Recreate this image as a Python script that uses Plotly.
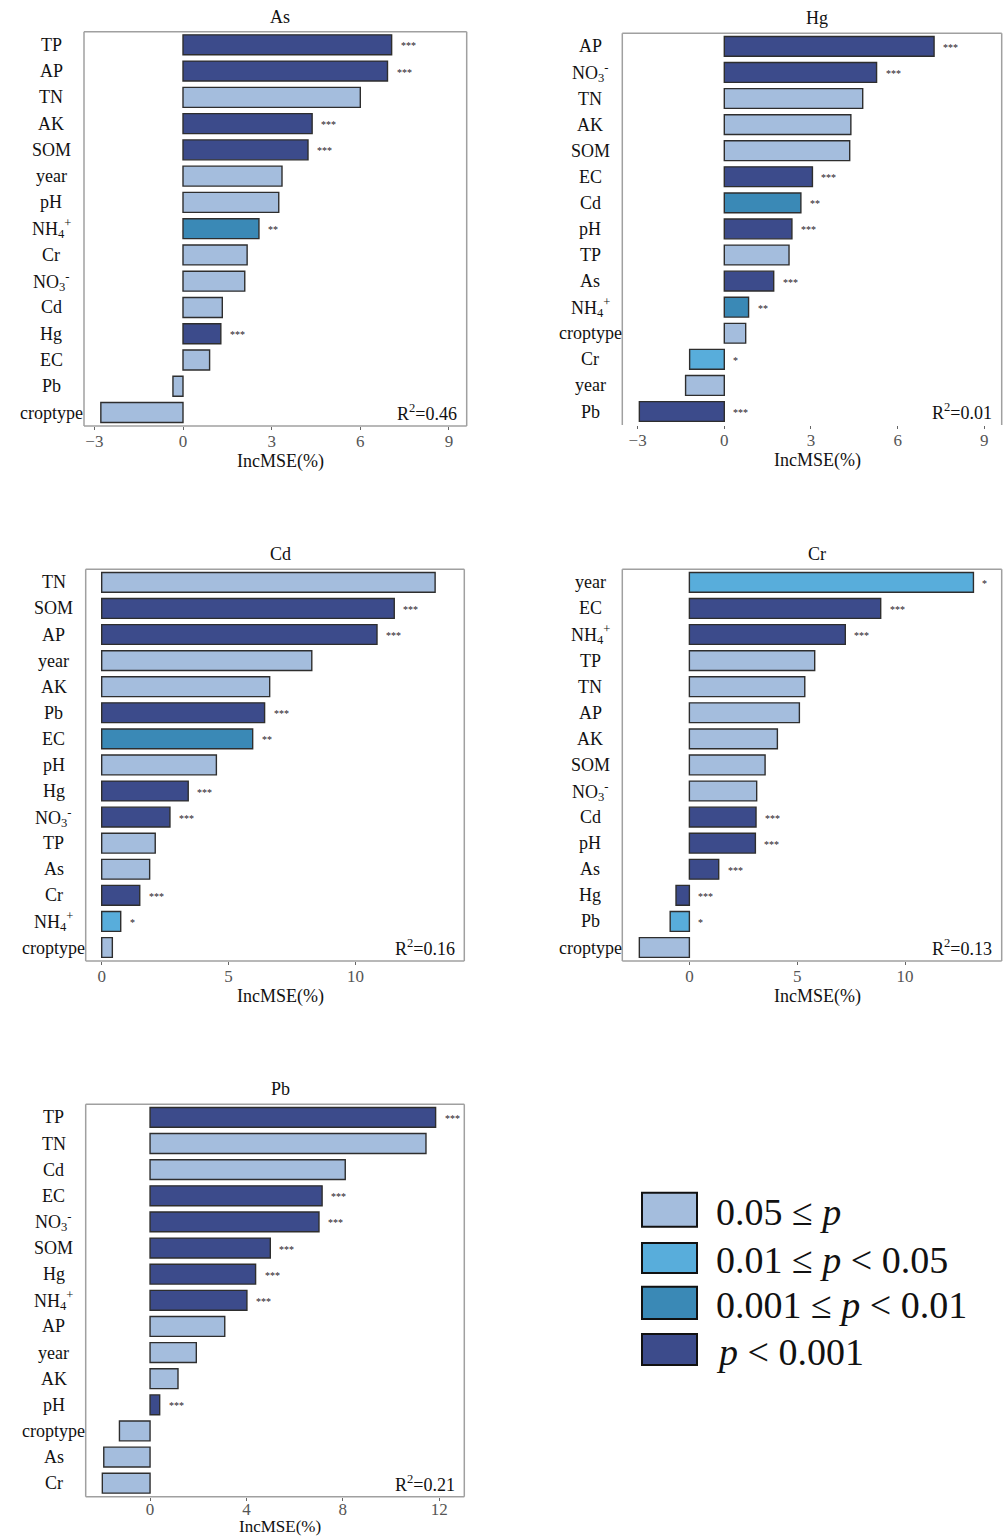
import plotly.graph_objects as go

# Random-forest variable importance (IncMSE %) for each heavy metal,
# with significance levels of the permutation test.
as_vars = ["TP", "AP", "TN", "AK", "SOM", "year", "pH", "NH4+", "Cr", "NO3-", "Cd", "Hg", "EC", "Pb", "croptype"]
as_vals = [7.06, 6.92, 6.00, 4.37, 4.23, 3.35, 3.24, 2.57, 2.17, 2.09, 1.33, 1.28, 0.90, -0.34, -2.78]
as_sig = ["***", "***", "", "***", "***", "", "", "**", "", "", "", "***", "", "", ""]

hg_vars = ["AP", "NO3-", "TN", "AK", "SOM", "EC", "Cd", "pH", "TP", "As", "NH4+", "croptype", "Cr", "year", "Pb"]
hg_vals = [7.26, 5.27, 4.79, 4.38, 4.34, 3.05, 2.65, 2.34, 2.24, 1.71, 0.84, 0.74, -1.20, -1.34, -2.94]
hg_sig = ["***", "***", "", "", "", "***", "**", "***", "", "***", "**", "", "*", "", "***"]

cd_vars = ["TN", "SOM", "AP", "year", "AK", "Pb", "EC", "pH", "Hg", "NO3-", "TP", "As", "Cr", "NH4+", "croptype"]
cd_vals = [13.14, 11.53, 10.85, 8.28, 6.62, 6.42, 5.95, 4.52, 3.41, 2.69, 2.11, 1.89, 1.50, 0.75, 0.42]
cd_sig = ["", "***", "***", "", "", "***", "**", "", "***", "***", "", "", "***", "*", ""]

cr_vars = ["year", "EC", "NH4+", "TP", "TN", "AP", "AK", "SOM", "NO3-", "Cd", "pH", "As", "Hg", "Pb", "croptype"]
cr_vals = [13.17, 8.87, 7.23, 5.81, 5.35, 5.10, 4.08, 3.51, 3.12, 3.09, 3.06, 1.36, -0.62, -0.89, -2.32]
cr_sig = ["*", "***", "***", "", "", "", "", "", "", "***", "***", "***", "***", "*", ""]

pb_vars = ["TP", "TN", "Cd", "EC", "NO3-", "SOM", "Hg", "NH4+", "AP", "year", "AK", "pH", "croptype", "As", "Cr"]
pb_vals = [11.85, 11.45, 8.10, 7.14, 7.01, 4.99, 4.38, 4.02, 3.10, 1.92, 1.16, 0.40, -1.27, -1.92, -1.98]
pb_sig = ["***", "", "", "***", "***", "***", "***", "***", "", "", "", "***", "", "", ""]

r2_labels = ["0.46", "0.01", "0.16", "0.13", "0.21"]
panel_titles = ["As", "Hg", "Cd", "Cr", "Pb"]
panel_ticks = [[-3, 0, 3, 6, 9], [-3, 0, 3, 6, 9], [0, 5, 10], [0, 5, 10], [0, 4, 8, 12]]

legend_labels = ["0.05 ≤ <i>p</i>", "0.01 ≤ <i>p</i> &lt; 0.05",
                 "0.001 ≤ <i>p</i> &lt; 0.01", "<i>p</i> &lt; 0.001"]
legend_levels = ["", "*", "**", "***"]

# ---------------------------------------------------------------- styling
W, H = 1006, 1537
SERIF = "Liberation Serif, Times New Roman, serif"
LEVEL_COLOR = {"": "#A4BDDD", "*": "#58ADDB", "**": "#3A89B6", "***": "#3C4B8B"}
BOX_COLOR = "#A0A0A0"

display = {"NH4+": "NH<sub>4</sub><sup>+</sup>", "NO3-": "NO<sub>3</sub><sup>-</sup>"}

# pixel boxes (left, right, top, bottom) of each panel
boxes = [(84, 466.7, 31.7, 426.0), (622.3, 1001.7, 33.3, 425.0),
         (85.7, 464.3, 569.3, 961.0), (622.3, 1001.7, 569.3, 961.0),
         (85.7, 464.3, 1104.3, 1496.7)]
x_ranges = [[-3.35, 9.6], [-3.53, 9.6], [-0.63, 14.29], [-3.11, 14.48], [-2.67, 13.04]]
axis_title_shift = [-24, -24, -24, -24, -19]
axis_title_size = [18, 18, 18, 18, 17]
tick_standoff = [-3, -3, -3, -3, -6]

panels = [(as_vars, as_vals, as_sig), (hg_vars, hg_vals, hg_sig),
          (cd_vars, cd_vals, cd_sig), (cr_vars, cr_vals, cr_sig),
          (pb_vars, pb_vals, pb_sig)]

fig = go.Figure()
annotations = []
shapes = []
layout_axes = {}

for i, (vars_, vals, sigs) in enumerate(panels):
    n = i + 1
    xa = "x" if n == 1 else f"x{n}"
    ya = "y" if n == 1 else f"y{n}"
    xkey = "xaxis" if n == 1 else f"xaxis{n}"
    ykey = "yaxis" if n == 1 else f"yaxis{n}"
    left, right, top, bottom = boxes[i]

    fig.add_trace(go.Bar(
        x=vals, y=vars_, orientation="h", xaxis=xa, yaxis=ya,
        width=0.76,
        marker=dict(color=[LEVEL_COLOR[s] for s in sigs],
                    line=dict(color="#2E2E2E", width=1.4)),
        showlegend=False, hoverinfo="x+y",
    ))

    layout_axes[xkey] = dict(
        domain=[left / W, right / W], anchor=ya, range=x_ranges[i],
        tickvals=panel_ticks[i], ticks="outside", ticklen=3, tickwidth=1,
        tickcolor="#666", showline=False, showgrid=False, zeroline=False,
        ticklabelstandoff=tick_standoff[i],
        tickfont=dict(family=SERIF, size=17, color="#555"),
    )
    layout_axes[ykey] = dict(
        domain=[1 - bottom / H, 1 - top / H], anchor=xa,
        type="category", categoryorder="array", categoryarray=vars_,
        autorange="reversed", showticklabels=False, ticks="",
        showline=False, showgrid=False, zeroline=False,
    )

    xd, yd = f"{xa} domain", f"{ya} domain"
    # panel frame (the Hg panel has an open bottom edge)
    sides = [(0, 0, 0, 1), (1, 1, 0, 1), (0, 1, 1, 1)]
    if panel_titles[i] != "Hg":
        sides.append((0, 1, 0, 0))
    for x0, x1, y0, y1 in sides:
        shapes.append(dict(type="line", xref=xd, yref=yd, x0=x0, x1=x1, y0=y0, y1=y1,
                           line=dict(color=BOX_COLOR, width=1.5)))

    # variable names centred to the left of the frame
    for v in vars_:
        annotations.append(dict(
            text=display.get(v, v), x=-0.085, xref=xd, y=v, yref=ya,
            xanchor="center", yanchor="middle", showarrow=False,
            font=dict(family=SERIF, size=18, color="#111")))

    # significance stars
    for v, val, s in zip(vars_, vals, sigs):
        if s:
            annotations.append(dict(
                text=s, x=max(val, 0), xref=xa, y=v, yref=ya,
                xanchor="left", yanchor="middle", xshift=7, yshift=-1,
                showarrow=False, font=dict(family=SERIF, size=10, color="#222")))

    # panel title, R² and axis title
    annotations.append(dict(
        text=panel_titles[i], x=0.5, xref=xd, y=1, yref=yd, xanchor="center",
        yanchor="bottom", yshift=3, xshift=5, showarrow=False,
        font=dict(family=SERIF, size=18, color="#111")))
    annotations.append(dict(
        text=f"R<sup>2</sup>=" + r2_labels[i], x=0.98, xref=xd, y=vars_[-1], yref=ya,
        xanchor="right", yanchor="middle", showarrow=False,
        font=dict(family=SERIF, size=18, color="#111")))
    annotations.append(dict(
        text="IncMSE(%)", x=0.5, xref=xd, y=0, yref=yd, xanchor="center",
        yanchor="top", yshift=axis_title_shift[i], xshift=5, showarrow=False,
        borderpad=0, font=dict(family=SERIF, size=axis_title_size[i], color="#111")))

# significance legend
legend_rows = [(1192.7, 1226.7), (1243.0, 1273.0), (1286.7, 1319.0), (1334.0, 1365.0)]
for lvl, lab, (t, b) in zip(legend_levels, legend_labels, legend_rows):
    shapes.append(dict(type="rect", xref="paper", yref="paper",
                       x0=642 / W, x1=697 / W, y0=1 - b / H, y1=1 - t / H,
                       fillcolor=LEVEL_COLOR[lvl], line=dict(color="#111", width=2)))
    annotations.append(dict(
        text=lab, x=714 / W, xref="paper", y=1 - ((t + b) / 2 + 2) / H, yref="paper",
        xanchor="left", yanchor="middle", showarrow=False,
        font=dict(family=SERIF, size=38, color="#111")))

fig.update_layout(
    width=W, height=H, margin=dict(l=0, r=0, t=0, b=0),
    paper_bgcolor="white", plot_bgcolor="white",
    bargap=0.24, annotations=annotations, shapes=shapes,
    **layout_axes,
)

fig.write_html("out.html")
